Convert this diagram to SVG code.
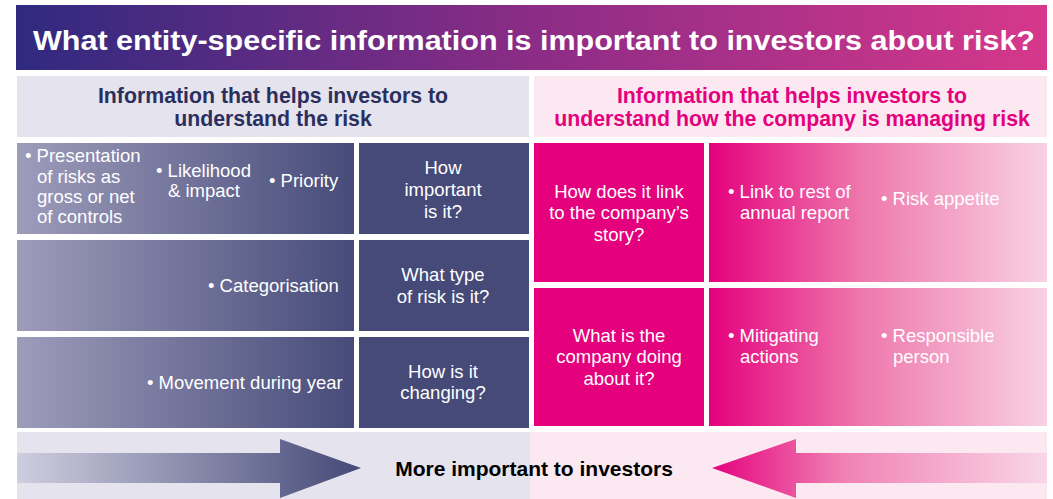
<svg xmlns="http://www.w3.org/2000/svg" width="1053" height="499" viewBox="0 0 1053 499">
<defs>
<linearGradient id="gTitle" x1="0" y1="0" x2="1" y2="0">
<stop offset="0" stop-color="#2f2a7f"/><stop offset="0.5" stop-color="#8b2c86"/><stop offset="1" stop-color="#d6388b"/>
</linearGradient>
<linearGradient id="gBlue" x1="0" y1="0" x2="1" y2="0">
<stop offset="0" stop-color="#9e9cbb"/><stop offset="1" stop-color="#464b79"/>
</linearGradient>
<linearGradient id="gPink" x1="0" y1="0" x2="1" y2="0">
<stop offset="0" stop-color="#e5007d"/><stop offset="0.45" stop-color="#ee78ac"/><stop offset="1" stop-color="#f8d2e4"/>
</linearGradient>
<linearGradient id="gArrL" x1="0" y1="0" x2="1" y2="0">
<stop offset="0" stop-color="#cfcedf"/><stop offset="1" stop-color="#444977"/>
</linearGradient>
<linearGradient id="gArrR" x1="0" y1="0" x2="1" y2="0">
<stop offset="0" stop-color="#e5037e"/><stop offset="0.4" stop-color="#f083b4"/><stop offset="1" stop-color="#f9d6e8"/>
</linearGradient>
</defs>
<style>
.t{font-family:"Liberation Sans",Arial,sans-serif;fill:#fff;font-size:18.5px}
.c{text-anchor:middle}
.hb{font-family:"Liberation Sans",Arial,sans-serif;font-weight:bold;font-size:21.3px;text-anchor:middle}
</style>
<rect width="1053" height="499" fill="#fff"/>
<g id="title">
<rect x="16" y="5" width="1031" height="65" fill="url(#gTitle)"/>
<text x="534" y="50" class="hb" style="font-size:28px;fill:#fff" textLength="1002" lengthAdjust="spacingAndGlyphs">What entity-specific information is important to investors about risk?</text>
</g>
<g id="header-left">
<rect x="17" y="76" width="512" height="61" fill="#e4e3ee"/>
<text class="hb" x="273" y="103" fill="#2b2f5e">Information that helps investors to</text>
<text class="hb" x="273" y="126" fill="#2b2f5e">understand the risk</text>
</g>
<g id="header-right">
<rect x="534" y="76" width="513" height="61" fill="#fce8f1"/>
<text class="hb" x="792" y="103" fill="#e5007d">Information that helps investors to</text>
<text class="hb" x="792" y="126" fill="#e5007d">understand how the company is managing risk</text>
</g>
<g id="bottom-band">
<rect x="17" y="432" width="513" height="67" fill="#e4e3ee"/>
<rect x="530" y="432" width="517" height="67" fill="#fce8f1"/>
</g>
<g id="connectors">
<polygon points="17,453 280,453 280,439 361,468 280,498 280,483 17,483" fill="url(#gArrL)"/>
<polygon points="1047,453 796,453 796,439 712,468 796,498 796,483 1047,483" fill="url(#gArrR)"/>
</g>
<g id="label-important">
<text class="hb" x="534" y="476" style="font-size:21px;fill:#000">More important to investors</text>
</g>
<g id="l-row1">
<rect x="17" y="143" width="337" height="91" fill="url(#gBlue)"/>
<text class="t" x="25" y="162">• Presentation</text>
<text class="t" x="37" y="183">of risks as</text>
<text class="t" x="37" y="203">gross or net</text>
<text class="t" x="37" y="223">of controls</text>
<text class="t" x="156" y="177">• Likelihood</text>
<text class="t" x="168" y="197">&amp; impact</text>
<text class="t" x="269" y="187">• Priority</text>
</g>
<g id="l-q1">
<rect x="359" y="143" width="170" height="91" fill="#454a78"/>
<text class="t c" x="443" y="174">How</text>
<text class="t c" x="443" y="196">important</text>
<text class="t c" x="443" y="218">is it?</text>
</g>
<g id="l-row2">
<rect x="17" y="240" width="337" height="91" fill="url(#gBlue)"/>
<text class="t" x="208" y="292">• Categorisation</text>
</g>
<g id="l-q2">
<rect x="359" y="240" width="170" height="91" fill="#454a78"/>
<text class="t c" x="443" y="281">What type</text>
<text class="t c" x="443" y="303">of risk is it?</text>
</g>
<g id="l-row3">
<rect x="17" y="337" width="337" height="91" fill="url(#gBlue)"/>
<text class="t" x="147" y="389">• Movement during year</text>
</g>
<g id="l-q3">
<rect x="359" y="337" width="170" height="91" fill="#454a78"/>
<text class="t c" x="443" y="378">How is it</text>
<text class="t c" x="443" y="399">changing?</text>
</g>
<g id="r-q1">
<rect x="534" y="143" width="170" height="139" fill="#e5007d"/>
<text class="t c" x="619" y="198">How does it link</text>
<text class="t c" x="619" y="219">to the company’s</text>
<text class="t c" x="619" y="241">story?</text>
</g>
<g id="r-row1">
<rect x="709" y="143" width="338" height="139" fill="url(#gPink)"/>
<text class="t" x="728" y="198">• Link to rest of</text>
<text class="t" x="740" y="219">annual report</text>
<text class="t" x="881" y="205">• Risk appetite</text>
</g>
<g id="r-q2">
<rect x="534" y="288" width="170" height="138" fill="#e5007d"/>
<text class="t c" x="619" y="342">What is the</text>
<text class="t c" x="619" y="363">company doing</text>
<text class="t c" x="619" y="385">about it?</text>
</g>
<g id="r-row2">
<rect x="709" y="288" width="338" height="138" fill="url(#gPink)"/>
<text class="t" x="728" y="342">• Mitigating</text>
<text class="t" x="740" y="363">actions</text>
<text class="t" x="881" y="342">• Responsible</text>
<text class="t" x="893" y="363">person</text>
</g>
</svg>
